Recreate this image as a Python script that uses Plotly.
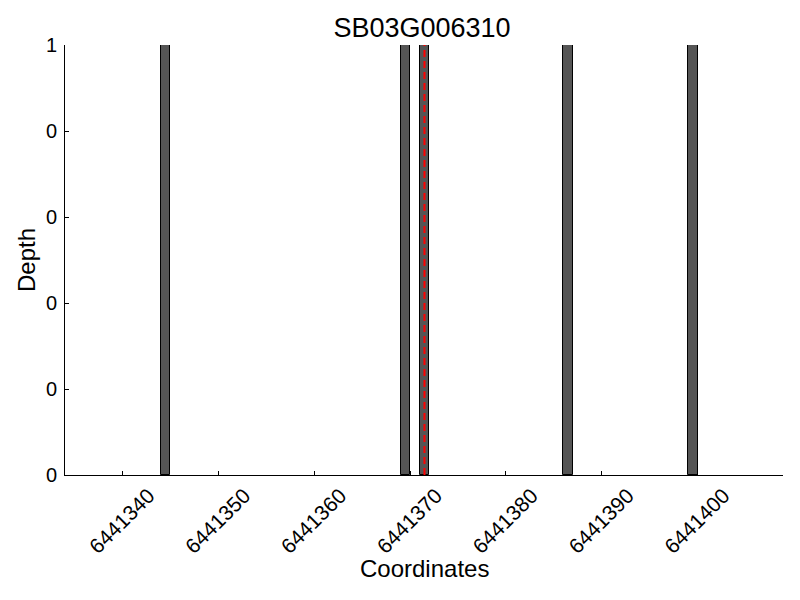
import plotly.graph_objects as go

# Data
positions = [6441344, 6441369, 6441371, 6441386, 6441399]
depths = [1, 1, 1, 1, 1]
marker_pos = 6441371.5
x_ticks = [6441340, 6441350, 6441360, 6441370, 6441380, 6441390, 6441400]
x_tick_labels = [str(v) for v in x_ticks]
y_ticks = [0, 0.2, 0.4, 0.6, 0.8, 1.0]
y_tick_labels = ["0", "0", "0", "0", "0", "1"]

FONT = "Liberation Sans, Arial, Helvetica, sans-serif"

fig = go.Figure()
fig.add_trace(go.Bar(
    x=positions, y=depths, width=1, offset=0,
    marker=dict(color="#555555", line=dict(color="black", width=1)),
    showlegend=False,
))
fig.add_shape(type="line", xref="x", yref="y",
              x0=marker_pos, x1=marker_pos, y0=0, y1=1,
              line=dict(color="red", width=2, dash="7px,4px"))

fig.update_layout(
    width=800, height=600,
    margin=dict(l=57, r=25, t=37, b=133, autoexpand=False),
    paper_bgcolor="white", plot_bgcolor="white",
    font=dict(family=FONT, color="black", size=20),
    title=dict(text="SB03G006310", x=0.5175, xanchor="center", y=0.9667, yanchor="middle",
               font=dict(size=27, family=FONT, color="black")),
    bargap=0,
    annotations=[
        dict(text="Coordinates", xref="paper", yref="paper", x=0.5, y=-0.2163,
             xanchor="center", yanchor="middle", showarrow=False,
             font=dict(size=24, family=FONT, color="black")),
        dict(text="Depth", xref="paper", yref="paper", x=-0.0543, y=0.5,
             xanchor="center", yanchor="middle", showarrow=False, textangle=-90,
             font=dict(size=24, family=FONT, color="black")),
    ],
)
fig.update_xaxes(
    range=[6441334.0, 6441408.9],
    tickvals=x_ticks, ticktext=x_tick_labels, tickangle=-45,
    ticks="inside", ticklen=4, tickcolor="black",
    showline=True, linecolor="black", linewidth=1, mirror=False,
    showgrid=False, zeroline=False,
    tickfont=dict(size=21),
    ticklabelshift=26,
    ticklabelstandoff=-1,
    automargin=False,
)
fig.update_yaxes(
    range=[0, 1],
    tickvals=y_ticks, ticktext=y_tick_labels,
    ticks="inside", ticklen=4, tickcolor="black",
    showline=True, linecolor="black", linewidth=1,
    showgrid=False, zeroline=False,
    tickfont=dict(size=20),
    ticklabelstandoff=3,
    automargin=False,
)
fig.write_html("out.html")
